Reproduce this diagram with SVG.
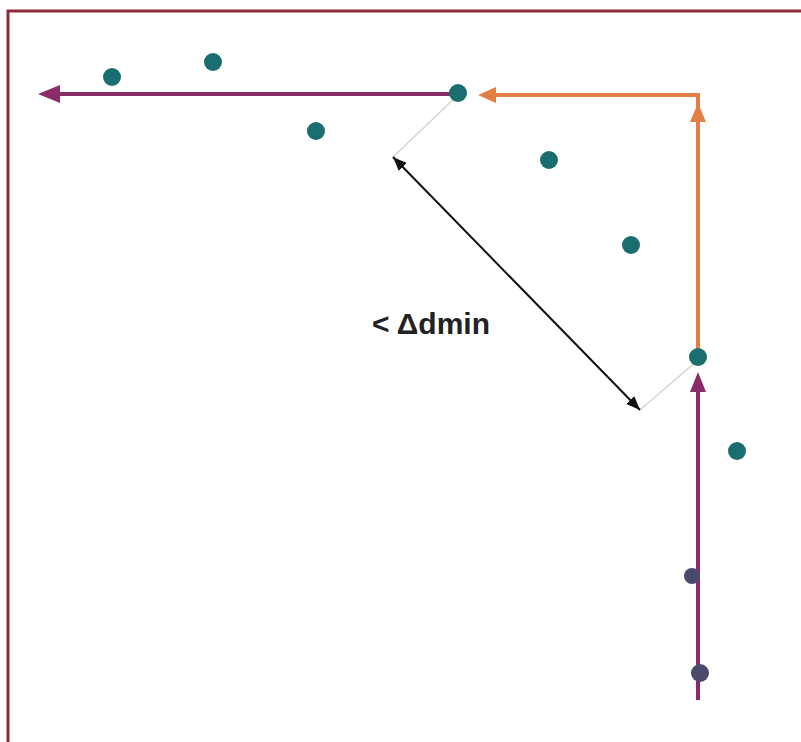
<svg xmlns="http://www.w3.org/2000/svg" width="801" height="742" viewBox="0 0 801 742">
<defs>
<style>
.dot{fill:#1b6e70}
.dot2{fill:#4a4a6e}
.pur{stroke:#8a2c68;stroke-width:4;fill:none}
.ora{stroke:#e37f45;stroke-width:4;fill:none}
.gry{stroke:#d4d4d4;stroke-width:1.5;fill:none}
.blk{stroke:#111;stroke-width:2;fill:none}
.lbl{font-family:"Liberation Sans",Arial,sans-serif;font-weight:bold;font-size:30px;fill:#222}
</style>
<marker id="ab" viewBox="0 0 10 10" refX="10" refY="5" markerWidth="7" markerHeight="7" orient="auto-start-reverse"><path d="M0,1 L10,5 L0,9 Z" fill="#111"/></marker>
</defs>
<rect x="0" y="0" width="801" height="742" fill="#fff"/>
<path d="M8,742 V11 H801" stroke="#8e2a38" stroke-width="3" fill="none"/>
<g id="connectors">
<line class="pur" x1="458" y1="94" x2="55" y2="94"/>
<path d="M38,94 L60,85 L60,103 Z" fill="#8a2c68"/>
<path class="ora" d="M698,357 V95 H490"/>
<path d="M478,95 L496,87 L496,103 Z" fill="#e37f45"/>
<path d="M698,103 L690,122 L706,122 Z" fill="#e37f45"/>
<path class="pur" d="M698,700 V385"/>
<path d="M698,372 L690,392 L706,392 Z" fill="#8a2c68"/>
<line class="gry" x1="458" y1="95" x2="393" y2="157"/>
<line class="gry" x1="698" y1="360" x2="640" y2="410"/>
<line class="blk" x1="393" y1="157" x2="640" y2="410" marker-start="url(#ab)" marker-end="url(#ab)"/>
</g>
<g id="n1"><circle class="dot" cx="112" cy="77" r="9"/></g>
<g id="n2"><circle class="dot" cx="213" cy="62" r="9"/></g>
<g id="n3"><circle class="dot" cx="316" cy="131" r="9"/></g>
<g id="n4"><circle class="dot" cx="458" cy="93" r="9"/></g>
<g id="n5"><circle class="dot" cx="549" cy="160" r="9"/></g>
<g id="n6"><circle class="dot" cx="631" cy="245" r="9"/></g>
<g id="n7"><circle class="dot" cx="698" cy="357" r="9"/></g>
<g id="n8"><circle class="dot" cx="737" cy="451" r="9"/></g>
<g id="n9"><circle class="dot2" cx="692" cy="576" r="8"/></g>
<g id="n10"><circle class="dot2" cx="700" cy="673" r="9"/></g>
<g id="label"><text class="lbl" x="372" y="334">&lt; Δdmin</text></g>
</svg>
